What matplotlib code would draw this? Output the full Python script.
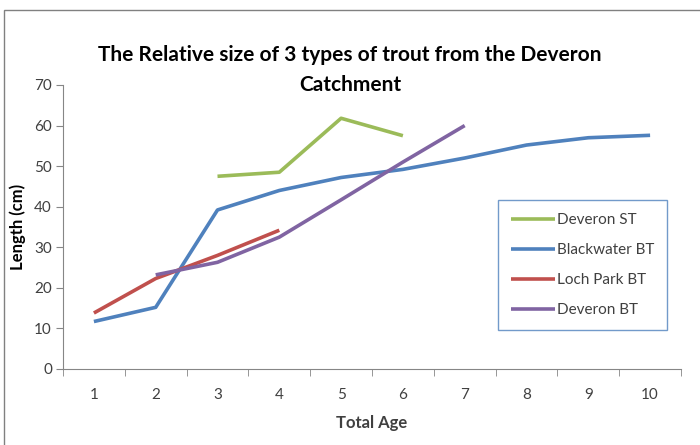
import numpy as np
import matplotlib
matplotlib.use('Agg')
import matplotlib.pyplot as plt
from matplotlib.patches import Rectangle

plt.rcParams['font.family'] = ['Lato', 'DejaVu Sans']

ages = [1, 2, 3, 4, 5, 6, 7, 8, 9, 10]
deveron_st_age = [3, 4, 5, 6]
deveron_st = [47.5, 48.5, 61.8, 57.5]
blackwater_age = [1, 2, 3, 4, 5, 6, 7, 8, 9, 10]
blackwater = [11.7, 15.2, 39.2, 44.0, 47.2, 49.2, 52.0, 55.2, 57.0, 57.6]
loch_park_age = [1, 2, 3, 4]
loch_park = [13.8, 22.3, 28.0, 34.2]
deveron_bt_age = [2, 3, 4, 5, 6, 7]
deveron_bt = [23.2, 26.3, 32.5, 41.7, 51.0, 60.0]

fig = plt.figure(figsize=(7, 4.45), dpi=100)
# outer chart border (Excel chart area)
fig.patches.append(Rectangle((4 / 700, -0.1), 1.2, 1 - 10 / 445 + 0.1, transform=fig.transFigure,
                             fill=False, edgecolor='#808080', lw=1))
ax = fig.add_axes([63 / 700, 1 - 369 / 445, 618 / 700, 284 / 445])

lw = 2.6
ax.plot(deveron_st_age, deveron_st, color='#9BBB59', lw=lw, label='Deveron ST', solid_capstyle='butt')
ax.plot(blackwater_age, blackwater, color='#4F81BD', lw=lw, label='Blackwater BT', solid_capstyle='butt')
ax.plot(loch_park_age, loch_park, color='#C0504D', lw=lw, label='Loch Park BT', solid_capstyle='butt')
ax.plot(deveron_bt_age, deveron_bt, color='#8064A2', lw=lw, label='Deveron BT', solid_capstyle='butt')

ax.set_xlim(0.5, 10.5)
ax.set_ylim(0, 70)
ax.set_yticks(range(0, 71, 10))
ax.set_xticks(ages)
ax.set_xticks(np.arange(0.5, 11, 1), minor=True)
ax.tick_params(axis='x', which='major', length=0, pad=14, labelsize=11, labelcolor='#404040')
ax.tick_params(axis='x', which='minor', length=5, direction='out', color='#868686')
ax.tick_params(axis='y', length=5, direction='out', color='#868686', labelsize=11, labelcolor='#404040', pad=3)
for s in ['top', 'right']:
    ax.spines[s].set_visible(False)
for s in ['left', 'bottom']:
    ax.spines[s].set_color('#868686')

ax.set_xlabel('Total Age', fontsize=12, fontweight='bold', color='#404040', labelpad=9)
ax.set_ylabel('Length (cm)', fontsize=12, fontweight='bold', color='#000000', labelpad=6)
fig.text(350 / 700, 1 - 55 / 445, 'The Relative size of 3 types of trout from the Deveron',
         ha='center', va='center', fontsize=15, fontweight='bold')
fig.text(350 / 700, 1 - 85 / 445, 'Catchment', ha='center', va='center', fontsize=15, fontweight='bold')

leg = ax.legend(loc='upper left', bbox_to_anchor=(498 / 700, 1 - 200 / 445), bbox_transform=fig.transFigure,
                frameon=True, fancybox=False, fontsize=11, handlelength=2.9, handletextpad=0.1,
                labelspacing=1.05, borderpad=0.85, borderaxespad=0)
leg.get_frame().set_edgecolor('#4F81BD')
leg.get_frame().set_linewidth(1)
for t in leg.get_texts():
    t.set_color('#404040')

fig.savefig('out.png', dpi=100)
